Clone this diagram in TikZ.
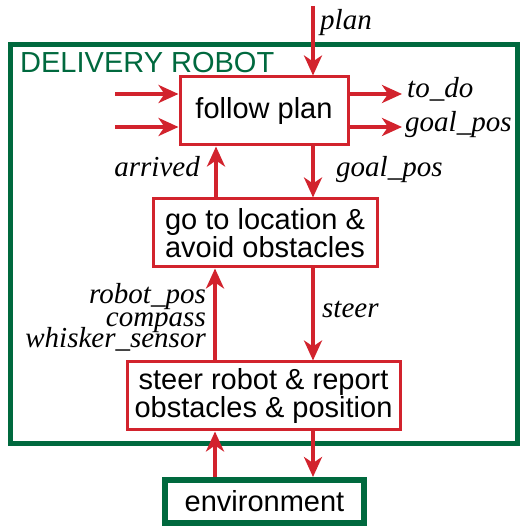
\documentclass[tikz,border=0pt]{standalone}
\usepackage{fontspec}
\setmainfont{Liberation Serif}
\setsansfont{Liberation Sans}
\usetikzlibrary{arrows.meta}

\definecolor{layergreen}{RGB}{0,105,62}
\definecolor{layerred}{RGB}{210,35,45}

\begin{document}
\begin{tikzpicture}[x=1pt, y=1pt, line join=miter, >={Stealth[length=20pt,width=18pt,inset=6pt]},
    layer/.style={draw=layerred, line width=3pt, fill=white, inner sep=0pt, align=center,
      font=\sffamily\fontsize{29}{22}\selectfont},
    flow/.style={->, draw=layerred, line width=4pt},
    sig/.style={font=\itshape\fontsize{29}{22}\selectfont, inner sep=0pt}]
  \useasboundingbox (0,0) rectangle (520,526);

  % the robot as one big box with its three layers stacked inside
  \draw[layergreen, line width=5pt] (10,82) rectangle (517,481);
  \node[anchor=base west, inner sep=0pt, text=layergreen,
    font=\sffamily\fontsize{29}{29}\selectfont] (title) at (20,453) {DELIVERY ROBOT};

  \node[layer, minimum width=168pt, minimum height=68pt] (follow) at (264,415) {follow plan};
  \node[layer, minimum width=224pt, minimum height=68pt] (goto) at (265,293)
    {go to location \&\\avoid obstacles};
  \node[layer, minimum width=273pt, minimum height=68pt] (steer) at (263.5,130)
    {steer robot \& report\\obstacles \& position};
  \node[draw=layergreen, line width=6pt, fill=white, inner sep=0pt,
    minimum width=199pt, minimum height=43pt, font=\sffamily\fontsize{29}{22}\selectfont]
    (env) at (264.5,24.5) {environment};

  % free ends of the connectors
  \coordinate (plantop) at (313,520);
  \coordinate (inA) at (115,432);
  \coordinate (inB) at (115,399);
  \coordinate (outA) at (402,432);
  \coordinate (outB) at (402,399);

  % top layer
  \draw[flow] (plantop) -- (plantop |- follow.north);
  \draw[flow] (inA) -- (inA -| follow.west);
  \draw[flow] (inB) -- (inB -| follow.west);
  \draw[flow] (outA -| follow.east) -- (outA);
  \draw[flow] (outB -| follow.east) -- (outB);

  % between the layers
  \draw[flow] ([xshift=-49pt]goto.north) -- ([xshift=-49pt]goto.north |- follow.south);
  \draw[flow] ([xshift=49pt]follow.south) -- ([xshift=49pt]follow.south |- goto.north);
  \draw[flow] ([xshift=-48.5pt]steer.north) -- ([xshift=-48.5pt]steer.north |- goto.south);
  \draw[flow] ([xshift=48pt]goto.south) -- ([xshift=48pt]goto.south |- steer.north);

  % to and from the world
  \draw[flow] ([xshift=-49.5pt]env.north) -- ([xshift=-49.5pt]env.north |- steer.south);
  \draw[flow] ([xshift=49.5pt]steer.south) -- ([xshift=49.5pt]steer.south |- env.north);

  \node[sig, anchor=base west] (lplan) at (320,496) {plan};
  \node[sig, anchor=base west] (ltodo) at (407,428) {to\_do};
  \node[sig, anchor=base west] (lgoalout) at (405,394) {goal\_pos};
  \node[sig, anchor=base east] (larrived) at (200,349) {arrived};
  \node[sig, anchor=base west] (lgoal) at (336,349) {goal\_pos};
  \node[sig, anchor=base east] (lpos) at (206,222) {robot\_pos};
  \node[sig, anchor=base east] (lcompass) at (206,199) {compass};
  \node[sig, anchor=base east] (lwhisker) at (206,178) {whisker\_sensor};
  \node[sig, anchor=base west] (lsteer) at (322,208) {steer};
\end{tikzpicture}
\end{document}
